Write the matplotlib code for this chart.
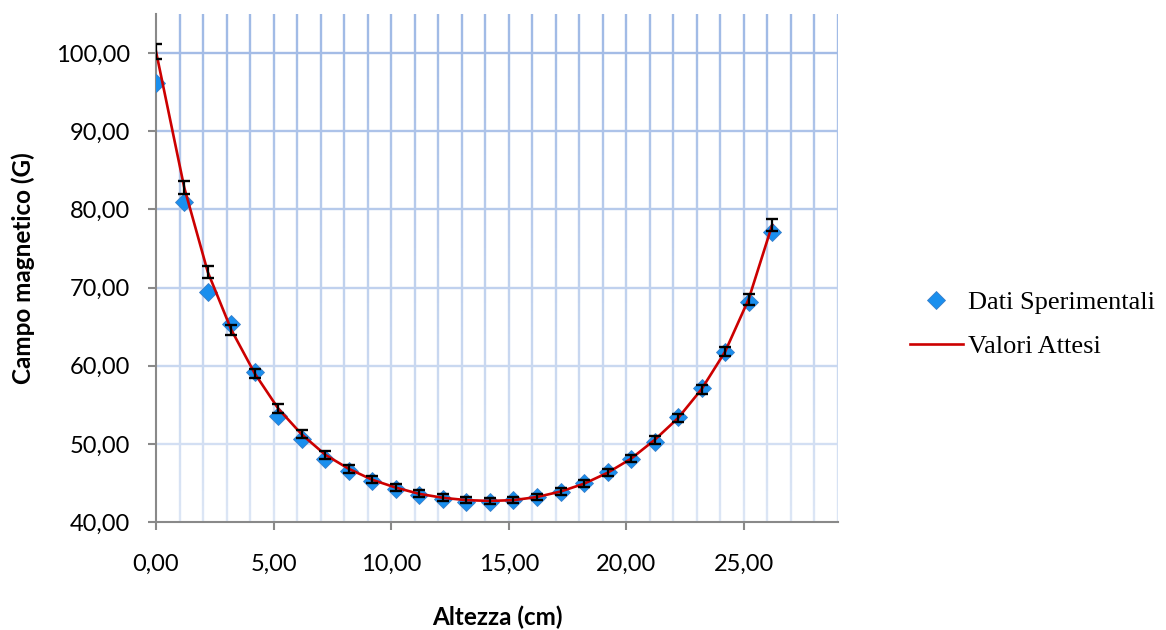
import matplotlib
matplotlib.use("Agg")
import numpy as np
import matplotlib.pyplot as plt
from matplotlib.collections import LineCollection
from matplotlib.colors import to_rgb
from matplotlib.ticker import MultipleLocator, FuncFormatter

# altezza (cm)
altezza = [0.0, 1.2, 2.2, 3.2, 4.2, 5.2, 6.2, 7.2, 8.2, 9.2, 10.2, 11.2, 12.2, 13.2,
           14.2, 15.2, 16.2, 17.2, 18.2, 19.2, 20.2, 21.2, 22.2, 23.2, 24.2, 25.2, 26.2]

# measured field (G)
dati = [96.2, 80.9, 69.4, 65.3, 59.2, 53.6, 50.6, 48.1, 46.5, 45.2, 44.2, 43.5, 42.9, 42.6,
        42.5, 42.8, 43.2, 43.9, 45.0, 46.4, 48.0, 50.3, 53.4, 57.1, 61.7, 68.2, 77.1]

# expected field (G)
attesi = [100.2, 82.8, 72.0, 64.6, 59.0, 54.5, 51.2, 48.6, 46.8, 45.4, 44.4, 43.6, 43.1, 42.8,
          42.7, 42.8, 43.2, 43.9, 44.9, 46.3, 48.1, 50.5, 53.3, 57.0, 61.8, 68.5, 78.0]

# error on expected values (G)
errori = [1.00, 0.83, 0.72, 0.65, 0.59, 0.55, 0.51, 0.49, 0.47, 0.45, 0.44, 0.44, 0.43, 0.43,
          0.43, 0.43, 0.43, 0.44, 0.45, 0.46, 0.48, 0.51, 0.53, 0.57, 0.62, 0.69, 0.78]

XMIN, XMAX, YMIN, YMAX = 0, 29, 40, 105
GRID_TOP = to_rgb("#9fb9e5")
GRID_BOT = to_rgb("#dce6f5")
AXIS = "#898989"


def fmt(v, pos):
    return f"{v:.2f}".replace(".", ",")


def grid_col(y):
    t = (y - YMIN) / (YMAX - YMIN)
    return tuple(b + (a - b) * t for a, b in zip(GRID_TOP, GRID_BOT))


def draw_grid(ax):
    # gradient gridlines (lighter towards the bottom, like the Excel chart)
    segs, cols = [], []
    ys = np.linspace(YMIN, YMAX, 66)
    for x in range(XMIN + 1, XMAX + 1):
        for y0, y1 in zip(ys[:-1], ys[1:]):
            segs.append([(x, y0), (x, y1)])
            cols.append(grid_col((y0 + y1) / 2))
    for y in range(YMIN + 10, 101, 10):
        segs.append([(XMIN, y), (XMAX, y)])
        cols.append(grid_col(y))
    ax.add_collection(LineCollection(segs, colors=cols, linewidths=1.7,
                                     capstyle="butt", zorder=0.5))


def main():
    fig = plt.figure(figsize=(11.66, 6.30), dpi=100)
    ax = fig.add_axes([0.1338, 0.1714, 0.5849, 0.8064])

    ax.set_xlim(XMIN, XMAX)
    ax.set_ylim(YMIN, YMAX)
    draw_grid(ax)

    ax.xaxis.set_major_locator(MultipleLocator(5))
    ax.yaxis.set_major_locator(MultipleLocator(10))
    ax.xaxis.set_major_formatter(FuncFormatter(fmt))
    ax.yaxis.set_major_formatter(FuncFormatter(fmt))

    for s in ["top", "right"]:
        ax.spines[s].set_visible(False)
    for s in ["left", "bottom"]:
        ax.spines[s].set_color(AXIS)
        ax.spines[s].set_linewidth(1.5)
        ax.spines[s].set_zorder(1)

    ax.tick_params(which="major", direction="out", length=6, width=1.5, color=AXIS,
                   labelsize=17)
    ax.tick_params(axis="x", pad=17)
    ax.tick_params(axis="y", pad=12.5)
    for lab in ax.get_xticklabels() + ax.get_yticklabels():
        lab.set_family("Lato")

    ax.plot(altezza, dati, linestyle="none", marker="D", markersize=9,
            markerfacecolor="#1a8fee", markeredgecolor="#3a7fc8", markeredgewidth=0.6,
            label="Dati Sperimentali", zorder=3)
    ax.plot(altezza, attesi, color="#cc0000", linewidth=1.9,
            label="Valori Attesi", zorder=4)
    ax.errorbar(altezza, attesi, yerr=errori, fmt="none", ecolor="black",
                elinewidth=1.6, capsize=4.5, capthick=1.7, zorder=5)

    ax.set_xlabel("Altezza (cm)", fontsize=17.5, fontweight="bold", family="Lato", labelpad=22)
    ax.set_ylabel("Campo magnetico (G)", fontsize=17.5, fontweight="bold", family="Lato", labelpad=15)

    fig.legend(loc="center left", bbox_to_anchor=(0.760, 0.485), frameon=False,
               prop={"family": "Liberation Serif", "size": 19}, handlelength=2.0,
               handletextpad=0.2, labelspacing=0.8)

    fig.savefig("out.png", dpi=100)
    plt.close(fig)


if __name__ == "__main__":
    main()
